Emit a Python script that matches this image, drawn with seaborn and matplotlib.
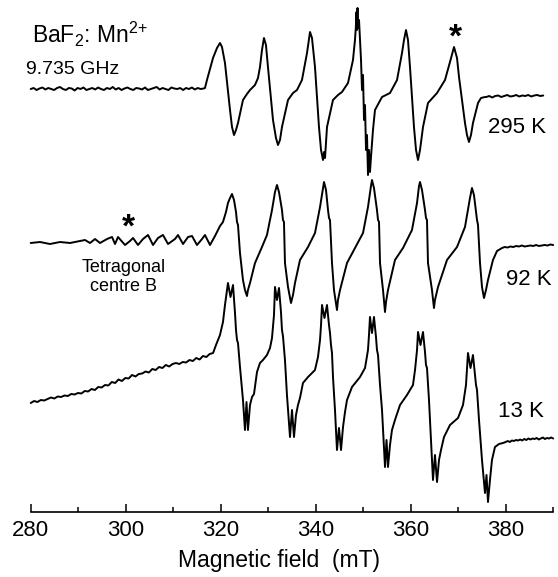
import numpy as np
import pandas as pd
import matplotlib
matplotlib.use("Agg")
import matplotlib.pyplot as plt
import seaborn as sns
from matplotlib.ticker import MultipleLocator

# ---------------- EPR spectra of BaF2:Mn2+ (first-derivative signal, arb. units) ----------------
# 295 K
base295_left_span = (280.0, 316.4)
base295_left = [0, 1, -1, 0.5, 1.5, -0.5, 1, 0, -1, 1,
                2, 0, -1, 1, 0.5, -1.5, 1, 0, 1.5, -1,
                0, 1, -0.5, 1.5, 0, -1, 1, 0, 2, -0.5,
                1, -1, 0.5, 1.5, 0, -1, 1, 0.5, -0.5, 1.5,
                -1, 0, 1, 2, -0.5, 1, 0, -1, 1.5, 0.5,
                0, 1, -1, 1, 0, 1.5, -0.5, 1, 0, 0.5]
field295 = [316.69, 317.11, 318.38, 319.22, 319.85, 320.27, 320.90, 321.96, 322.38, 322.80,
            323.22, 323.64, 324.69, 325.53, 326.17, 327.22, 327.85, 328.27, 328.69, 329.11,
            329.53, 329.95, 331.01, 331.64, 332.06, 332.48, 332.90, 334.17, 335.22, 336.06,
            337.11, 338.17, 338.80, 339.22, 339.85, 340.69, 341.12, 341.54, 341.75, 341.96,
            342.38, 343.64, 344.69, 345.54, 346.80, 347.85, 348.27, 348.48, 348.59, 348.69,
            348.80, 348.90, 349.12, 349.33, 349.54, 349.75, 349.96, 350.17, 350.38, 350.59,
            350.80, 351.01, 351.22, 351.43, 351.64, 352.06, 352.48, 353.96, 355.64, 357.12,
            358.17, 358.59, 359.01, 359.43, 359.85, 360.69, 361.12, 361.54, 361.96, 362.59,
            363.64, 365.54, 367.22, 368.27, 369.12, 369.75, 370.17, 371.43, 371.85, 372.27,
            372.69, 373.11, 374.17, 374.80, 375.64]
sig295 = [1, 9, 31, 41, 46, 42, 26, -21, -38, -46,
          -41, -34, -11, -5, -1, 4, 11, 22, 39, 51,
          44, 22, -31, -49, -56, -51, -38, -11, -4, -1,
          9, 36, 57, 51, 22, -38, -61, -71, -63, -69,
          -38, -11, -6, -3, 6, 29, 49, 64, 77, 59,
          81, 61, 69, 49, 29, -1, 14, -31, -16, -61,
          -46, -86, -61, -83, -68, -41, -21, -8, -4, 9,
          36, 49, 59, 49, 22, -38, -61, -71, -61, -38,
          -14, -4, 9, 27, 42, 31, 12, -34, -46, -53,
          -46, -34, -14, -9, -8]
base295_right_span = (375.9, 387.9)
base295_right = [-8, -7, -8.5, -7, -6.5, -8, -7, -6, -7.5, -7,
                 -6, -7.5, -6.5, -7, -6, -7.5, -6.5, -6, -7, -6.5]

# 92 K (left part carries the tetragonal centre B lines)
field92 = [280.0, 281.96, 284.06, 286.17, 288.27, 290.38, 291.43, 292.49, 293.54, 294.59,
           296.07, 297.12, 297.75, 298.38, 299.86, 300.91, 301.54, 302.59, 303.64, 304.70,
           305.75, 306.80, 307.85, 308.91, 310.38, 311.01, 312.07, 313.12, 313.96, 315.01,
           316.07, 316.69, 317.75, 318.80, 319.85, 320.48, 321.11, 321.53, 321.96, 322.38,
           322.80, 323.22, 323.43, 323.64, 324.06, 324.69, 325.11, 325.53, 325.74, 326.17,
           327.22, 328.69, 329.74, 330.80, 331.43, 331.85, 332.27, 332.90, 333.11, 333.32,
           333.53, 334.17, 334.80, 335.22, 335.64, 336.69, 338.38, 339.85, 340.91, 341.54,
           341.75, 342.17, 342.59, 342.80, 343.01, 343.43, 343.85, 344.48, 344.69, 345.12,
           346.59, 348.27, 349.96, 351.01, 351.64, 351.85, 352.27, 352.90, 353.12, 353.33,
           353.54, 354.17, 354.59, 354.80, 355.22, 356.69, 358.38, 360.27, 361.33, 361.75,
           361.96, 362.38, 363.01, 363.22, 363.43, 363.64, 364.48, 364.90, 365.11, 365.75,
           367.64, 369.75, 371.43, 372.48, 372.90, 373.32, 373.96, 374.17, 374.59, 375.01,
           375.43, 375.85, 376.27, 377.32, 378.17, 379.22]
sig92 = [2, 3, 1, 3, 2, 4, 5, 2, 6, 2,
         6, 8, 1, 8, 0, 4, 7, 0, 6, 10,
         0, 7, 10, 1, 6, 10, 1, 8, 9, 0,
         6, 10, 0, 9, 19, 23, 33, 42, 47, 51,
         45, 33, 23, 20, -8, -35, -45, -51, -45, -38,
         -18, -2, 10, 35, 53, 60, 53, 35, 25, 23,
         -18, -42, -58, -50, -38, -15, -2, 12, 38, 57,
         63, 55, 35, 27, 25, -18, -45, -65, -55, -45,
         -18, -3, 12, 38, 59, 65, 57, 35, 25, 23,
         -18, -45, -67, -57, -45, -15, -3, 15, 42, 59,
         63, 55, 35, 27, 25, -18, -45, -63, -55, -42,
         -15, -2, 18, 47, 57, 50, 25, 20, -18, -42,
         -53, -45, -35, -15, -6, -3]
base92_right_span = (379.8, 390.0)
base92_right = [-2, -2.5, -1.5, -2, -1, -1.5, -0.5, -1.5, -1, -0.5,
                -1, 0, -1, -0.5, 0, -0.5, 0.5, 0]

# 13 K (resolved doublets, sloping background on the low-field side)
base13_left_span = (280.0, 318.4)
base13_left = [37, 39, 38, 40, 39.5, 41, 42.5, 41.5, 43.5, 43,
               44.5, 44, 46, 45.5, 47, 46.5, 49, 48.5, 51, 50,
               53, 52.5, 55, 54.5, 58, 57, 60.5, 59, 62, 61.5,
               65, 63.5, 66, 66.5, 68.5, 67.5, 71, 70, 73, 72,
               75, 73.5, 76, 77, 76, 78, 77.5, 80, 79, 82,
               80.5, 84, 83, 86, 87]
field13 = [319.01, 319.85, 320.48, 320.90, 321.32, 321.53, 322.06, 322.59, 323.01, 323.22,
           323.43, 323.64, 324.06, 324.69, 325.11, 325.43, 325.74, 326.17, 326.59, 327.01,
           327.64, 328.27, 328.90, 329.74, 330.38, 330.80, 331.22, 331.43, 331.85, 332.27,
           332.69, 332.90, 333.11, 333.53, 333.95, 334.59, 335.01, 335.43, 335.85, 336.27,
           336.69, 337.32, 338.38, 339.85, 340.48, 340.91, 341.12, 341.33, 341.85, 342.38,
           342.80, 343.01, 343.22, 343.43, 343.64, 344.06, 344.48, 344.90, 345.33, 345.75,
           346.17, 346.59, 347.64, 349.33, 350.38, 351.01, 351.22, 351.43, 351.85, 352.27,
           352.69, 352.90, 353.12, 353.54, 353.96, 354.59, 354.91, 355.22, 355.64, 356.06,
           356.69, 357.75, 359.22, 360.48, 360.91, 361.33, 361.54, 362.06, 362.59, 363.01,
           363.22, 363.43, 363.85, 364.27, 364.69, 365.11, 365.54, 365.96, 366.38, 367.01,
           368.27, 369.96, 371.01, 371.64, 372.06, 372.59, 373.11, 373.53, 373.75, 373.96,
           374.38, 375.01, 375.64, 375.96, 376.27, 376.69, 377.11, 377.74, 378.59, 379.43]
sig13 = [95, 105, 118, 135, 150, 157, 143, 155, 127, 110,
         100, 97, 73, 40, 10, 38, 10, 35, 43, 46,
         68, 77, 80, 85, 92, 102, 125, 153, 140, 152,
         128, 110, 104, 80, 45, 3, 30, 3, 25, 35,
         42, 57, 63, 70, 83, 100, 115, 135, 122, 135,
         115, 107, 95, 87, 63, 30, -10, 12, -10, 13,
         28, 40, 53, 63, 72, 90, 105, 123, 107, 123,
         103, 90, 85, 55, 30, -27, 0, -27, -5, 10,
         20, 35, 45, 55, 70, 90, 108, 95, 108, 88,
         75, 72, 40, 0, -40, -15, -42, -20, -10, 3,
         15, 22, 35, 55, 87, 72, 85, 65, 55, 50,
         20, -20, -53, -35, -62, -40, -20, -7, -4, -3]
base13_right_span = (380.0, 390.0)
base13_right = [-2, -1, -2, -0.5, -1, 0, -0.5, 0.5, -0.5, 1,
                0, 1.5, 0.5, 1.5, 1, 2, 0.5, 1.5, 2.5, 1,
                2, 1.5, 2.5, 1.5]

temperatures = ["295 K", "92 K", "13 K"]
x_ticks = [280, 300, 320, 340, 360, 380]


def segment(span, values):
    """Field grid for an evenly sampled stretch of recorded baseline."""
    return np.linspace(span[0], span[1], len(values)), np.asarray(values, float)


def assemble(parts):
    f = np.concatenate([np.asarray(p[0], float) for p in parts])
    s = np.concatenate([np.asarray(p[1], float) for p in parts])
    return f, s


spectra = {
    "295 K": assemble([segment(base295_left_span, base295_left),
                       (field295, sig295),
                       segment(base295_right_span, base295_right)]),
    "92 K": assemble([(field92, sig92),
                      segment(base92_right_span, base92_right)]),
    "13 K": assemble([segment(base13_left_span, base13_left),
                      (field13, sig13),
                      segment(base13_right_span, base13_right)]),
}

# vertical stacking of the three traces
stack_shift = {"295 K": 422.7, "92 K": 266.7, "13 K": 71.7}

frames = []
for t in temperatures:
    f, s = spectra[t]
    frames.append(pd.DataFrame({"field": f, "signal": s + stack_shift[t], "T": t}))
df = pd.concat(frames, ignore_index=True)

# ---------------- styling ----------------
sns.set_style("ticks")
plt.rcParams["font.family"] = ["Liberation Sans", "DejaVu Sans"]
plt.rcParams["mathtext.fontset"] = "custom"
plt.rcParams["mathtext.rm"] = "Liberation Sans"
plt.rcParams["mathtext.it"] = "Liberation Sans:italic"
for key in ("text.color", "axes.labelcolor", "xtick.color", "xtick.labelcolor", "axes.edgecolor"):
    plt.rcParams[key] = "black"

W, H = 558, 577
fig = plt.figure(figsize=(W / 100, H / 100), dpi=100)
ax_bottom_px = 511.7
ax = fig.add_axes([0, (H - ax_bottom_px) / H, 1, ax_bottom_px / H])

sns.lineplot(data=df, x="field", y="signal", units="T", estimator=None, sort=False,
             color="black", linewidth=1.4, ax=ax, legend=False)

px_per_mT = 4.75
x0 = 280 - 30.7 / px_per_mT
ax.set_xlim(x0, x0 + W / px_per_mT)
ax.set_ylim(0, ax_bottom_px)


def fx(px):
    return x0 + px / px_per_mT


def fy(py):
    return ax_bottom_px - py


for side in ("left", "right", "top"):
    ax.spines[side].set_visible(False)
ax.spines["bottom"].set_bounds(280, 390)
ax.spines["bottom"].set_linewidth(1.2)
ax.spines["bottom"].set_color("black")
ax.set_yticks([])
ax.set_xticks(x_ticks)
ax.xaxis.set_minor_locator(MultipleLocator(10))
ax.tick_params(axis="x", which="major", direction="in", length=6, width=1.1,
               labelsize=16, pad=6, color="black", labelcolor="black")
ax.tick_params(axis="x", which="minor", direction="in", length=3.3, width=1.1, color="black")
ax.set_xlabel("Magnetic field  (mT)", fontsize=16.5, labelpad=6, color="black")
ax.set_ylabel("")

ax.text(fx(32), fy(43), r"BaF$_2$: Mn$^{2{+}}$", fontsize=16.5, ha="left", va="baseline")
ax.text(fx(26), fy(74), "9.735 GHz", fontsize=14, ha="left", va="baseline")
ax.text(fx(488), fy(133), "295 K", fontsize=16, ha="left", va="baseline")
ax.text(fx(506), fy(285), "92 K", fontsize=16, ha="left", va="baseline")
ax.text(fx(498), fy(417), "13 K", fontsize=16, ha="left", va="baseline")
ax.text(fx(455), fy(47), "*", fontsize=24, fontweight="bold", ha="center", va="baseline")
ax.text(fx(128), fy(237), "*", fontsize=24, fontweight="bold", ha="center", va="baseline")
ax.text(fx(124), fy(259), "Tetragonal\ncentre B", fontsize=13, ha="center", va="top",
        linespacing=1.15, multialignment="center")

fig.savefig("out.png", dpi=100)
